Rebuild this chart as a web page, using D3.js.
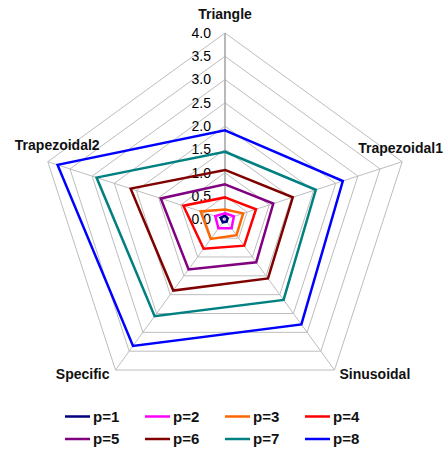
<!DOCTYPE html>
<html>
<head>
<meta charset="utf-8">
<script src="https://cdn.jsdelivr.net/npm/d3@7"></script>
<style>
  body { margin: 0; background: #fff; }
  text { font-family: "Liberation Sans", Arial, sans-serif; }
</style>
</head>
<body>
<script>
// axes, clockwise from the top
const axes = ["Triangle", "Trapezoidal1", "Sinusoidal", "Specific", "Trapezoidal2"];
const ticks = [0, 0.5, 1, 1.5, 2, 2.5, 3, 3.5, 4];

// one series per p, values in axis order
const seriesNames = ["p=1", "p=2", "p=3", "p=4", "p=5", "p=6", "p=7", "p=8"];
const p1 = [0.08, 0.06, 0.06, 0.08, 0.10];
const p2 = [0.13, 0.20, 0.24, 0.24, 0.22];
const p3 = [0.21, 0.41, 0.42, 0.52, 0.55];
const p4 = [0.47, 0.70, 0.70, 0.78, 0.94];
const p5 = [0.75, 1.09, 1.14, 1.33, 1.45];
const p6 = [1.06, 1.53, 1.57, 1.89, 2.13];
const p7 = [1.45, 2.05, 2.14, 2.57, 2.90];
const p8 = [1.91, 2.66, 2.79, 3.36, 3.78];
const seriesValues = [p1, p2, p3, p4, p5, p6, p7, p8];
const colors = ["#000080", "#ff00ff", "#ff6600", "#ff0000", "#800080", "#800000", "#008080", "#0000ff"];

const width = 446, height = 450;
const cx = 225, cy = 219.3, R = 186.3;

const svg = d3.select("body").append("svg")
    .attr("width", width)
    .attr("height", height);

const g = svg.append("g")
    .attr("transform", "translate(" + cx + "," + cy + ")");

// radius scale and angle per axis
const r = d3.scaleLinear().domain([0, 4]).range([0, R]);
const angle = d3.scalePoint().domain(axes).range([0, 2 * Math.PI * (axes.length - 1) / axes.length]);

const radial = d3.lineRadial()
    .angle(function (d) { return angle(d.axis); })
    .radius(function (d) { return r(d.value); })
    .curve(d3.curveLinearClosed);

// grid rings
g.selectAll(".ring")
    .data(ticks.slice(1))
    .enter().append("path")
    .attr("d", function (t) {
        return radial(axes.map(function (a) { return {axis: a, value: t}; }));
    })
    .attr("fill", "none")
    .attr("stroke", "#bdbdbd")
    .attr("stroke-width", 1);

// spokes
g.selectAll(".spoke")
    .data(axes)
    .enter().append("line")
    .attr("x1", 0).attr("y1", 0)
    .attr("x2", function (a) { return r(4) * Math.sin(angle(a)); })
    .attr("y2", function (a) { return -r(4) * Math.cos(angle(a)); })
    .attr("stroke", function (a, i) { return i === 0 ? "#a8a8a8" : "#bdbdbd"; })
    .attr("stroke-width", function (a, i) { return i === 0 ? 1.6 : 1; });

// tick labels along the top axis
g.selectAll(".tick")
    .data(ticks)
    .enter().append("text")
    .attr("x", -14)
    .attr("y", function (t) { return -r(t); })
    .attr("dy", "0.35em")
    .attr("text-anchor", "end")
    .attr("font-size", 14)
    .attr("fill", "#000")
    .text(function (t) { return d3.format(".1f")(t); });

// axis labels
const labelPos = {
    "Triangle": {dx: 0, dy: -14, anchor: "middle"},
    "Trapezoidal1": {dx: -44, dy: -9, anchor: "start"},
    "Sinusoidal": {dx: 5, dy: 9, anchor: "start"},
    "Specific": {dx: -6, dy: 9, anchor: "end"},
    "Trapezoidal2": {dx: -33, dy: -12, anchor: "start"}
};
g.selectAll(".axis-label")
    .data(axes)
    .enter().append("text")
    .attr("x", function (a) { return r(4) * Math.sin(angle(a)) + labelPos[a].dx; })
    .attr("y", function (a) { return -r(4) * Math.cos(angle(a)) + labelPos[a].dy; })
    .attr("text-anchor", function (a) { return labelPos[a].anchor; })
    .attr("font-size", 14)
    .attr("font-weight", "bold")
    .attr("fill", "#111")
    .text(function (a) { return a; });

// series polygons
g.selectAll(".series")
    .data(seriesValues)
    .enter().append("path")
    .attr("d", function (vals) {
        return radial(vals.map(function (v, i) { return {axis: axes[i], value: v}; }));
    })
    .attr("fill", "none")
    .attr("stroke", function (d, i) { return colors[i]; })
    .attr("stroke-width", 2.5)
    .attr("stroke-linejoin", "miter");

// legend, 4 per row
const legend = svg.append("g");
const item = legend.selectAll(".item")
    .data(seriesNames)
    .enter().append("g")
    .attr("transform", function (d, i) {
        return "translate(" + (65 + (i % 4) * 80) + "," + (416.5 + Math.floor(i / 4) * 22.5) + ")";
    });
item.append("line")
    .attr("x1", 0).attr("x2", 25)
    .attr("stroke", function (d, i) { return colors[i]; })
    .attr("stroke-width", 2.5);
item.append("text")
    .attr("x", 28)
    .attr("dy", "0.35em")
    .attr("font-size", 15)
    .attr("font-weight", "bold")
    .attr("fill", "#111")
    .text(function (d) { return d; });
</script>
</body>
</html>
